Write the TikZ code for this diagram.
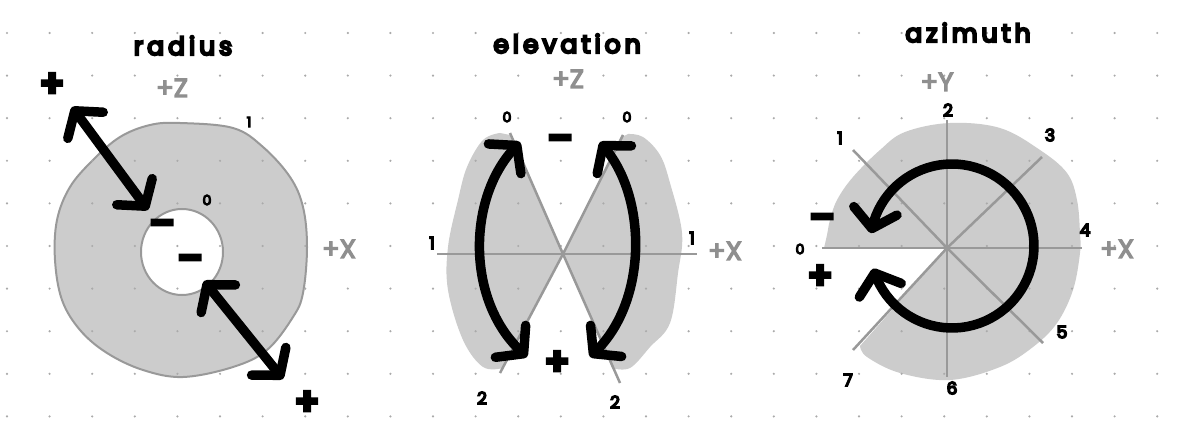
\documentclass[tikz,border=0pt]{standalone}
\usepackage{fontspec}
\setmainfont{Poppins}
\newfontfamily\handfont[LetterSpace=16, FakeBold=9]{Poppins}
\newfontfamily\digitfont[FakeBold=9]{Poppins}
\newfontfamily\axisfont[FakeBold=5]{Poppins}
\newfontfamily\signfont[FakeBold=15]{Poppins}
\usetikzlibrary{arrows.meta}
\definecolor{lightfill}{HTML}{CCCCCC}
\definecolor{axisgray}{HTML}{999999}
\definecolor{labelgray}{HTML}{8F8F8F}
\definecolor{dotgray}{HTML}{AAAAAA}
\tikzset{
  axisline/.style={draw=axisgray, line width=2.5pt},
  rimline/.style={draw=axisgray, line width=2pt},
  bigarrow/.style={line width=9.5pt, line cap=round, line join=round,
    {Straight Barb[length=18pt,width=44pt,round]}-{Straight Barb[length=18pt,width=44pt,round]}},
  title/.style={font=\handfont\fontsize{25}{25}\selectfont, anchor=base, inner sep=0pt},
  axislabel/.style={font=\axisfont\fontsize{26}{26}\selectfont, text=labelgray, anchor=base, inner sep=0pt},
  digit/.style={font=\digitfont\fontsize{17}{17}\selectfont, inner sep=0pt},
  smalldigit/.style={font=\digitfont\fontsize{14}{14}\selectfont, inner sep=0pt},
  sign/.style={font=\signfont\fontsize{34}{34}\selectfont, inner sep=0pt},
}
\begin{document}
\begin{tikzpicture}[x=1pt, y=-1pt]
\useasboundingbox (0,0) rectangle (1177,446);
\fill[white] (0,0) rectangle (1177,446);

% ---------- radius ----------
\filldraw[fill=lightfill, rimline] plot[smooth cycle, tension=0.6] coordinates {(180,123) (233,128) (263,147) (290,177) (303,207) (307,247) (303,293) (293,317) (267,350) (233,367) (183,377) (143,370) (107,353) (80,330) (62,300) (55,260) (57,220) (70,187) (93,160) (120,137) (150,125)};
\filldraw[fill=white, rimline] (182,252) ellipse [x radius=41, y radius=43];

% ---------- elevation ----------
\fill[lightfill] (510,135) -- (563,254) -- (503,368) -- plot[smooth, tension=0.6] coordinates {(503,368) (483,367) (463,340) (448,290) (448,247) (458,200) (467,167) (483,140) (500,133)} -- cycle;
\fill[lightfill] (622,137) -- (563,254) -- (612,368) -- plot[smooth, tension=0.6] coordinates {(612,368) (630,368) (650,347) (670,323) (678,273) (682,233) (670,183) (660,155) (643,137) (628,134)} -- cycle;

% ---------- azimuth ----------
\fill[lightfill] (947,248) -- (824,248) -- plot[smooth, tension=0.6] coordinates {(824,248) (827,235) (830,220) (837,200) (853,177) (880,150) (905,132) (950,123) (1000,128) (1040,150) (1067,173) (1077,200) (1080,233) (1080,253) (1073,290) (1057,323) (1033,347) (1000,367) (950,380) (900,373) (867,357) (860,346)} -- cycle;

% ---------- dot grid ----------
\foreach \i in {0,...,27}
  \foreach \j in {0,...,9}
    \fill[dotgray] ({7+42.6*\i},{33+42.6*\j}) circle[radius=1.2];

% ---------- axis lines ----------
\coordinate (ec) at (563,254);
\coordinate (e0l) at (510,133);
\coordinate (e0r) at (623,135);
\coordinate (e2l) at (500,373);
\coordinate (e2r) at (620,383);
\draw[axisline] (437,254) -- (697,254);
\draw[axisline] (e0l) -- (ec) -- (e2r);
\draw[axisline] (e0r) -- (ec) -- (e2l);

\coordinate (ac) at (947,248);
\draw[axisline] (822,248) -- (1082,248);
\draw[axisline] (947,120) -- (947,377);
\draw[axisline] (853,150) -- (ac) -- (1043,343);
\draw[axisline] (853,350) -- (ac) -- (1042,157);

% ---------- arrows ----------
\draw[bigarrow] (72,107) -- (148,210);
\draw[bigarrow] (204,281) -- (283,379);
\draw[bigarrow] (520,142) .. controls (467,200) and (467,300) .. (527,357);
\draw[bigarrow] (600,142) .. controls (647,200) and (647,300) .. (590,357);
\draw[bigarrow] plot[samples=80, domain=171:-164] ({952+82*cos(\x)}, {246-82*sin(\x)});

% ---------- labels: radius ----------
\node[title] (tr) at (183,55) {radius};
\node[axislabel] (rz) at (172,97) {+Z};
\node[axislabel] (rx) at (339,258) {+X};
\node[smalldigit] (r1) at (249,122) {1};
\node[smalldigit] (r0) at (207,200) {0};
\node[sign] (rp1) at (52,85) {+};
\node[sign] (rm1) at (162,228) {–};
\node[sign] (rm2) at (190,263) {–};
\node[sign] (rp2) at (307,403) {+};

% ---------- labels: elevation ----------
\node[title] (te) at (567,53) {elevation};
\node[axislabel] (ez) at (568,88) {+Z};
\node[axislabel] (ex) at (725,260) {+X};
\node[smalldigit] (e0a) at (507,117) {0};
\node[smalldigit] (e0b) at (627,117) {0};
\node[digit] (e1a) at (432,243) {1};
\node[digit] (e1b) at (692,238) {1};
\node[digit] (e2a) at (482,398) {2};
\node[digit] (e2b) at (615,402) {2};
\node[sign] (em) at (560,143) {–};
\node[sign] (ep) at (557,363) {+};

% ---------- labels: azimuth ----------
\node[title] (ta) at (968,42) {azimuth};
\node[axislabel] (ay) at (937,91) {+Y};
\node[axislabel] (ax) at (1117,258) {+X};
\node[smalldigit] (a0) at (800,249) {0};
\node[digit] (a1) at (840,138) {1};
\node[digit] (a2) at (948,110) {2};
\node[digit] (a3) at (1050,135) {3};
\node[digit] (a4) at (1085,230) {4};
\node[digit] (a5) at (1062,332) {5};
\node[digit] (a6) at (952,388) {6};
\node[digit] (a7) at (848,380) {7};
\node[sign] (am) at (822,222) {–};
\node[sign] (ap) at (820,277) {+};
\end{tikzpicture}
\end{document}
